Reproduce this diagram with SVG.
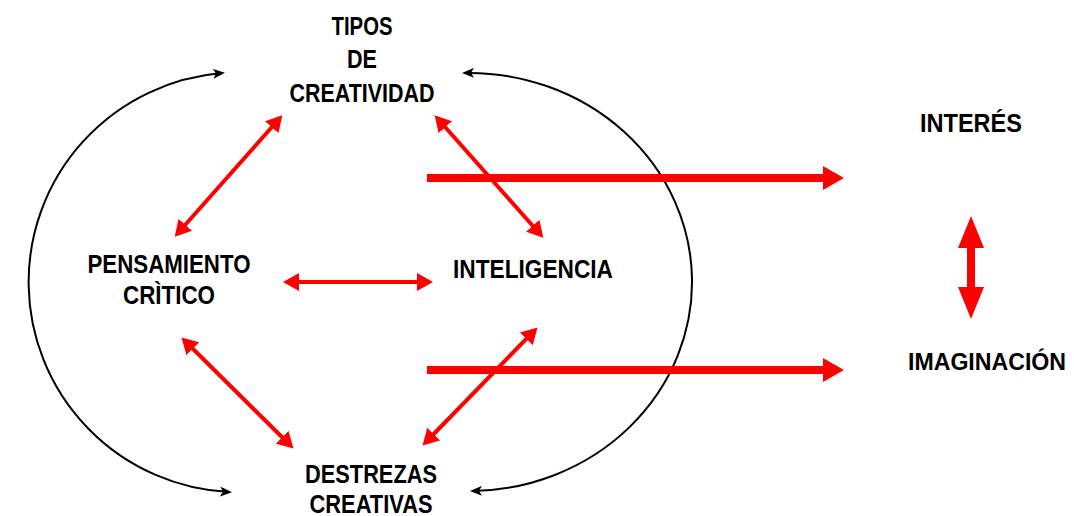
<svg xmlns="http://www.w3.org/2000/svg" width="1074" height="516" viewBox="0 0 1074 516">
<style>
.t{font-family:"Liberation Sans",Arial,sans-serif;font-weight:bold;font-size:25px;fill:#000;text-anchor:middle}
.red{stroke:#ff0000;stroke-width:4;fill:none}
.blk{stroke:#000;stroke-width:2;fill:none}
.thick{stroke:#ff0000;stroke-width:8;fill:none}
.rf{fill:#ff0000}
</style>
<defs>
<marker id="rh" markerUnits="userSpaceOnUse" markerWidth="16" markerHeight="18" viewBox="0 0 16 18" refX="11" refY="9" orient="auto-start-reverse">
<path d="M0,0 L16,9 L0,18 Z" fill="#ff0000"/>
</marker>
<marker id="bh" markerUnits="userSpaceOnUse" markerWidth="12" markerHeight="10" viewBox="0 0 12 10" refX="9" refY="5" orient="auto-start-reverse">
<path d="M0,0 L12,5 L0,10 L3,5 Z" fill="#000"/>
</marker>
</defs>
<rect width="1074" height="516" fill="#fff"/>
<g id="connectors">
<path class="blk" d="M 222 73 A 211 210 0 0 0 229 492" marker-start="url(#bh)" marker-end="url(#bh)"/>
<path class="blk" d="M 465 73 A 223 209 0 0 1 473 491" marker-start="url(#bh)" marker-end="url(#bh)"/>
<line class="red" x1="279" y1="119" x2="178" y2="233" marker-start="url(#rh)" marker-end="url(#rh)"/>
<line class="red" x1="438" y1="119" x2="540" y2="234" marker-start="url(#rh)" marker-end="url(#rh)"/>
<line class="red" x1="288" y1="282" x2="428" y2="282" marker-start="url(#rh)" marker-end="url(#rh)"/>
<line class="red" x1="185" y1="341" x2="290" y2="445" marker-start="url(#rh)" marker-end="url(#rh)"/>
<line class="red" x1="534" y1="331" x2="426" y2="442" marker-start="url(#rh)" marker-end="url(#rh)"/>
<line class="thick" x1="427" y1="178" x2="825" y2="178"/>
<polygon class="rf" points="823,166 844,178 823,190"/>
<line class="thick" x1="427" y1="370" x2="825" y2="370"/>
<polygon class="rf" points="823,358 844,370 823,382"/>
<polygon class="rf" points="971,216 984,248 975,248 975,287 984,287 971,319 958,287 967,287 967,248 958,248"/>
</g>
<g id="tipos">
<text class="t" x="362" y="35" textLength="61" lengthAdjust="spacingAndGlyphs">TIPOS</text>
<text class="t" x="362" y="68" textLength="30" lengthAdjust="spacingAndGlyphs">DE</text>
<text class="t" x="362" y="102" textLength="145" lengthAdjust="spacingAndGlyphs">CREATIVIDAD</text>
</g>
<g id="pensamiento">
<text class="t" x="169" y="273" textLength="163" lengthAdjust="spacingAndGlyphs">PENSAMIENTO</text>
<text class="t" x="169" y="304" textLength="92" lengthAdjust="spacingAndGlyphs">CRÌTICO</text>
</g>
<g id="inteligencia">
<text class="t" x="533" y="278" textLength="160" lengthAdjust="spacingAndGlyphs">INTELIGENCIA</text>
</g>
<g id="destrezas">
<text class="t" x="371" y="483" textLength="132" lengthAdjust="spacingAndGlyphs">DESTREZAS</text>
<text class="t" x="371" y="513" textLength="123" lengthAdjust="spacingAndGlyphs">CREATIVAS</text>
</g>
<g id="interes">
<text class="t" x="971" y="132" textLength="102" lengthAdjust="spacingAndGlyphs">INTERÉS</text>
</g>
<g id="imaginacion">
<text class="t" x="987" y="370" style="font-size:24px" textLength="158" lengthAdjust="spacingAndGlyphs">IMAGINACIÓN</text>
</g>
</svg>
